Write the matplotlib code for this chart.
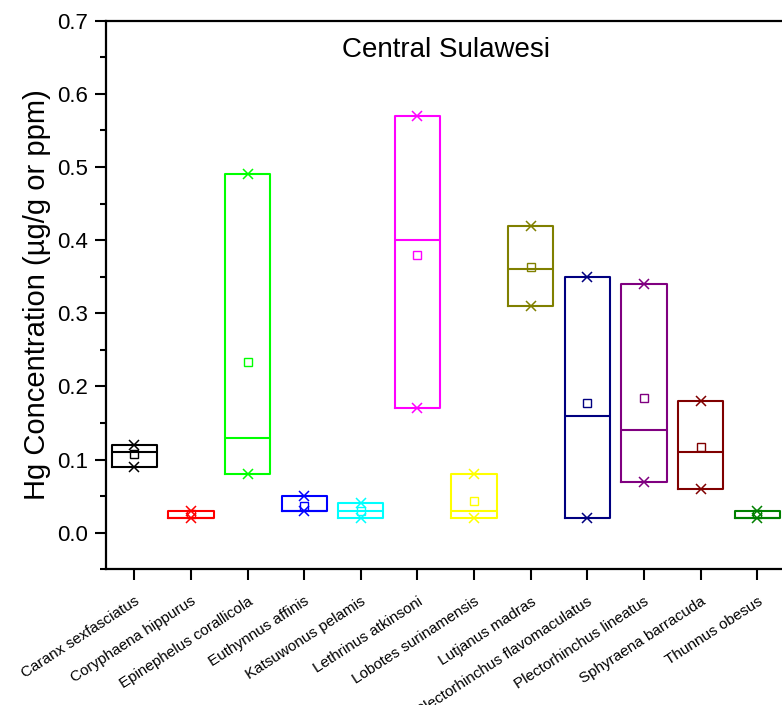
import matplotlib
matplotlib.use("Agg")
import matplotlib.pyplot as plt
import matplotlib.transforms as mtransforms
from matplotlib.ticker import MultipleLocator

# noms des especes (axe x)
species = ["Caranx sexfasciatus", "Coryphaena hippurus", "Epinephelus corallicola",
           "Euthynnus affinis", "Katsuwonus pelamis", "Lethrinus atkinsoni",
           "Lobotes surinamensis", "Lutjanus madras", "Plectorhinchus flavomaculatus",
           "Plectorhinchus lineatus", "Sphyraena barracuda", "Thunnus obesus"]

# valeurs (ug/g)
box_lo = [0.09, 0.02, 0.08, 0.03, 0.02, 0.17, 0.02, 0.31, 0.02, 0.07, 0.06, 0.02]
box_hi = [0.12, 0.03, 0.49, 0.05, 0.04, 0.57, 0.08, 0.42, 0.35, 0.34, 0.18, 0.03]
medians = [0.11, 0.02, 0.13, 0.03, 0.03, 0.40, 0.03, 0.36, 0.16, 0.14, 0.11, 0.02]
means = [0.107, 0.025, 0.233, 0.037, 0.03, 0.38, 0.043, 0.364, 0.177, 0.184, 0.117, 0.025]
val_min = [0.09, 0.02, 0.08, 0.03, 0.02, 0.17, 0.02, 0.31, 0.02, 0.07, 0.06, 0.02]
val_max = [0.12, 0.03, 0.49, 0.05, 0.04, 0.57, 0.08, 0.42, 0.35, 0.34, 0.18, 0.03]

# couleurs facon Origin
colors = ["#000000", "#FF0000", "#00FF00", "#0000FF", "#00FFFF", "#FF00FF",
          "#FFFF00", "#808000", "#000080", "#800080", "#800000", "#008000"]

plt.rcParams["font.family"] = ["Liberation Sans", "DejaVu Sans"]

fig = plt.figure(figsize=(7.82, 7.05), dpi=100)
ax = fig.add_axes([0.1355, 0.1925, 0.869, 0.778])

# les boites
stats = []
for i in range(len(species)):
    stats.append({"med": medians[i], "q1": box_lo[i], "q3": box_hi[i],
                  "whislo": box_lo[i], "whishi": box_hi[i],
                  "mean": means[i], "fliers": []})
pos = list(range(len(species)))
bp = ax.bxp(stats, positions=pos, widths=0.8, showcaps=False, showfliers=False,
            showmeans=False, patch_artist=False)
for i in range(len(species)):
    bp["boxes"][i].set_color(colors[i])
    bp["boxes"][i].set_linewidth(1.5)
    bp["medians"][i].set_color(colors[i])
    bp["medians"][i].set_linewidth(1.5)
for w in bp["whiskers"]:
    w.set_visible(False)

# min / max (croix) et moyenne (carre)
for i in range(len(species)):
    ax.plot([pos[i], pos[i]], [val_min[i], val_max[i]], linestyle="none",
            marker="x", markersize=7, markeredgewidth=1.1, color=colors[i])
    ax.plot(pos[i], means[i], linestyle="none", marker="s", markersize=6,
            markerfacecolor="none", markeredgewidth=1.0, markeredgecolor=colors[i])

# axes, titres, etc
ax.set_xlim(-0.5, 11.5)
ax.set_ylim(-0.05, 0.7)
ax.yaxis.set_major_locator(MultipleLocator(0.1))
ax.yaxis.set_minor_locator(MultipleLocator(0.05))
ax.set_yticks([0.0, 0.1, 0.2, 0.3, 0.4, 0.5, 0.6, 0.7])
ax.set_yticklabels(["0.0", "0.1", "0.2", "0.3", "0.4", "0.5", "0.6", "0.7"], fontsize=16)
ax.set_xticks(pos)
ax.set_xticklabels(species, rotation=33, ha="right", rotation_mode="anchor", fontsize=11)
offset = mtransforms.ScaledTranslation(0.06, 0, fig.dpi_scale_trans)
for lab in ax.get_xticklabels():
    lab.set_transform(lab.get_transform() + offset)

ax.tick_params(axis="both", which="major", direction="out", length=8, width=1.5)
ax.tick_params(axis="y", which="major", pad=5)
ax.tick_params(axis="x", which="major", pad=10)
ax.tick_params(axis="y", which="minor", direction="out", length=4.5, width=1.5)
for s in ax.spines.values():
    s.set_linewidth(1.6)

ax.set_ylabel("Hg Concentration (µg/g or ppm)", fontsize=21, labelpad=4)
ax.text(0.5, 0.934, "Central Sulawesi", transform=ax.transAxes, ha="center",
        va="baseline", fontsize=20)

plt.savefig("out.png", dpi=100)
